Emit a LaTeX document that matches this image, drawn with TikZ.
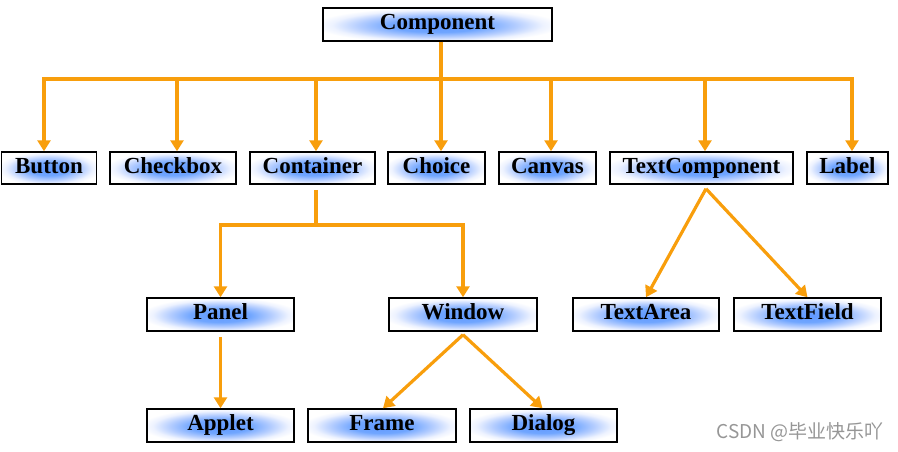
\documentclass[tikz,border=0pt]{standalone}
\usepackage{fontspec}
\setmainfont{Liberation Serif}
\newfontfamily\cjkwm{Noto Sans CJK SC}
\usetikzlibrary{arrows.meta}
\definecolor{connorange}{RGB}{248,158,12}
\definecolor{wmgray}{RGB}{150,150,150}
\pgfdeclareradialshading{boxglow}{\pgfpoint{0bp}{-2bp}}{%
  rgb(0bp)=(0.38,0.60,1.0);
  rgb(10bp)=(0.44,0.65,1.0);
  rgb(17bp)=(0.70,0.80,1.0);
  rgb(23bp)=(0.93,0.95,1.0);
  rgb(27bp)=(1,1,1);
  rgb(50bp)=(1,1,1)}
\tikzset{
  cbox/.style={draw=black, line width=1.5pt, shade, shading=boxglow,
    minimum height=32pt, inner sep=0pt, text height=15.5pt, text depth=5.5pt,
    font=\fontsize{23}{24}\selectfont\bfseries},
  conn/.style={draw=connorange, line width=3.2pt},
  arr/.style={conn, -{Triangle[width=13pt,length=11pt]}},
}
\begin{document}
\begin{tikzpicture}[x=1pt,y=-1pt]
\useasboundingbox (0,0) rectangle (898,452);
% nodes
\node[cbox, minimum width=229pt, minimum height=33pt] (comp) at (437.5,24.5) {Component};
\node[cbox, minimum width=95pt]  (btn)    at (49,168)    {Button};
\node[cbox, minimum width=126pt] (chk)    at (173,168)   {Checkbox};
\node[cbox, minimum width=125pt] (cont)   at (312.5,168) {Container};
\node[cbox, minimum width=97pt]  (choice) at (436.5,168) {Choice};
\node[cbox, minimum width=97pt]  (canvas) at (547.5,168) {Canvas};
\node[cbox, minimum width=183pt] (tcomp)  at (701.5,168) {TextComponent};
\node[cbox, minimum width=81pt]  (label)  at (847.5,168) {Label};
\node[cbox, minimum width=147pt, minimum height=33pt] (panel)  at (220.5,314.5) {Panel};
\node[cbox, minimum width=148pt, minimum height=33pt] (window) at (463,314.5)   {Window};
\node[cbox, minimum width=146pt, minimum height=33pt] (tarea)  at (646,314.5)   {TextArea};
\node[cbox, minimum width=147pt, minimum height=33pt] (tfield) at (807.5,314.5) {TextField};
\node[cbox, minimum width=147pt, minimum height=33pt] (applet) at (220.5,425.5) {Applet};
\node[cbox, minimum width=148pt, minimum height=33pt] (frame)  at (382,425.5)   {Frame};
\node[cbox, minimum width=147pt, minimum height=33pt] (dialog) at (543.5,425.5) {Dialog};
% watermark
\node[font=\cjkwm\fontsize{19}{20}\selectfont, text=wmgray, anchor=east, inner sep=0pt] (wm) at (884,432) {CSDN @毕业快乐吖};
% connectors
\coordinate (bus) at (441,79);
\draw[conn] ([xshift=3.5pt]comp.south) -- (bus);
\draw[arr] (bus) -| ([xshift=-5pt]btn.north);
\draw[arr] (bus) -| ([xshift=4pt]chk.north);
\draw[arr] (bus) -| ([xshift=3.5pt]cont.north);
\draw[arr] (bus) -| ([xshift=4.5pt]choice.north);
\draw[arr] (bus) -| ([xshift=3.5pt]canvas.north);
\draw[arr] (bus) -| ([xshift=3.5pt]tcomp.north);
\draw[arr] (bus) -| ([xshift=4.5pt]label.north);
\coordinate (bus2) at (316,225);
\draw[conn] ([xshift=3.5pt,yshift=-5pt]cont.south) -- (bus2);
\draw[arr] (bus2) -| (panel.north);
\draw[arr] (bus2) -| (window.north);
\draw[arr] ([yshift=-5pt]panel.south) -- (applet.north);
\draw[arr] ([yshift=-3pt]window.south) -- ([xshift=1pt]frame.north);
\draw[arr] ([yshift=-3pt]window.south) -- ([xshift=-1pt]dialog.north);
\draw[arr] ([xshift=4.5pt,yshift=-4pt]tcomp.south) -- (tarea.north);
\draw[arr] ([xshift=4.5pt,yshift=-4pt]tcomp.south) -- (tfield.north);
\end{tikzpicture}
\end{document}
